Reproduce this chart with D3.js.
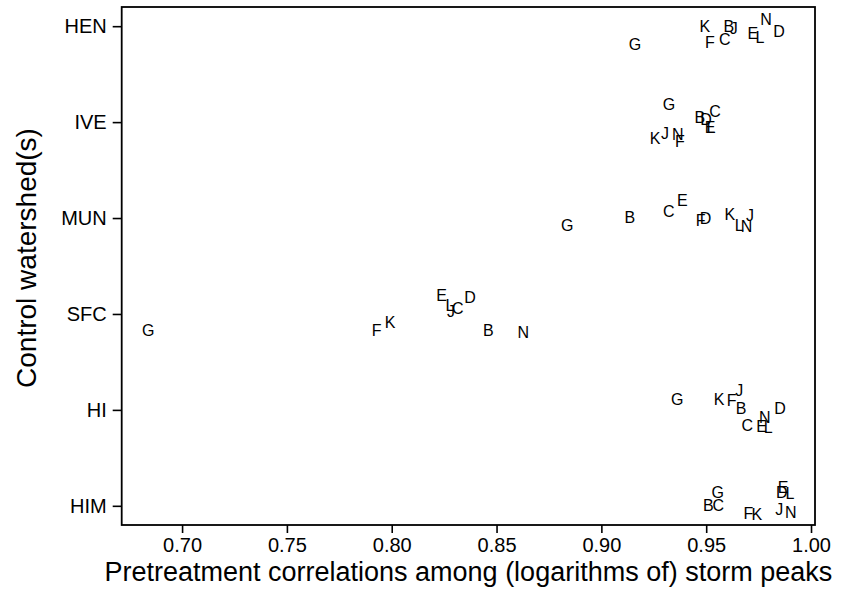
<!DOCTYPE html>
<html>
<head>
<meta charset="utf-8">
<script src="https://cdn.jsdelivr.net/npm/d3@7"></script>
<style>
  html, body { margin: 0; padding: 0; background: #fff; }
  svg { display: block; }
  text { font-family: "Liberation Sans", Arial, Helvetica, sans-serif; fill: #000; }
</style>
</head>
<body>
<svg id="chart" width="847" height="605"></svg>
<script>
// Control watersheds, top to bottom
const categories = ["HEN", "IVE", "MUN", "SFC", "HI", "HIM"];
// Treated-watershed codes plotted as text labels
const letters = ["B", "C", "D", "E", "F", "G", "J", "K", "L", "N"];

// Pretreatment correlations, one value per letter (order of `letters`)
const corrHEN = [0.9608, 0.9589, 0.9847, 0.9723, 0.9518, 0.9160, 0.9632, 0.9494, 0.9756, 0.9785];
const corrIVE = [0.9470, 0.9542, 0.9499, 0.9518, 0.9375, 0.9322, 0.9303, 0.9256, 0.9523, 0.9365];
const corrMUN = [0.9136, 0.9322, 0.9497, 0.9386, 0.9473, 0.8837, 0.9709, 0.9613, 0.9658, 0.9693];
const corrSFC = [0.8461, 0.8315, 0.8373, 0.8238, 0.7928, 0.6839, 0.8283, 0.7992, 0.8278, 0.8628];
const corrHI  = [0.9666, 0.9696, 0.9852, 0.9764, 0.9621, 0.9362, 0.9658, 0.9561, 0.9796, 0.9780];
const corrHIM = [0.9510, 0.9558, 0.9860, 0.9867, 0.9701, 0.9555, 0.9848, 0.9741, 0.9899, 0.9904];

// Vertical jitter applied to each label around its row
const jitHEN = [0.002, -0.133, -0.050, -0.071, -0.165, -0.186, -0.019, 0.002, -0.113, 0.075];
const jitIVE = [0.053, 0.116, 0.032, -0.058, -0.197, 0.186, -0.117, -0.169, -0.058, -0.124];
const jitMUN = [0.003, 0.066, 0.000, 0.180, -0.021, -0.080, 0.031, 0.038, -0.080, -0.090];
const jitSFC = [-0.168, 0.058, 0.169, 0.197, -0.168, -0.168, 0.023, -0.091, 0.093, -0.186];
const jitHI  = [0.016, -0.158, 0.022, -0.169, 0.102, 0.113, 0.206, 0.113, -0.182, -0.072];
const jitHIM = [0.007, 0.007, 0.139, 0.195, -0.075, 0.146, -0.035, -0.085, 0.129, -0.070];

const xTicks = [0.70, 0.75, 0.80, 0.85, 0.90, 0.95, 1.00];
const xLimits = [0.6712, 1.0019];

const corrByCat = [corrHEN, corrIVE, corrMUN, corrSFC, corrHI, corrHIM];
const jitByCat  = [jitHEN, jitIVE, jitMUN, jitSFC, jitHI, jitHIM];

// Flatten into label records; row value runs 6 (top) .. 1 (bottom)
const points = [];
categories.forEach((cat, ci) => {
  const row = categories.length - ci;
  letters.forEach((lab, li) => {
    points.push({ cat, lab, x: corrByCat[ci][li], y: row + jitByCat[ci][li] });
  });
});

const svg = d3.select("#chart");
const plot = { left: 121.7, right: 815, top: 7, bottom: 525 };

const x = d3.scaleLinear().domain(xLimits).range([plot.left, plot.right]);
const y = d3.scaleLinear().domain([0.8, 6.2]).range([plot.bottom, plot.top]);

const ptSize = 16, tickSize = 20, titleSize = 27;

// Labels
svg.append("g")
  .selectAll("text")
  .data(points)
  .join("text")
  .attr("x", d => x(d.x))
  .attr("y", d => y(d.y) + 0.358 * ptSize)
  .attr("text-anchor", "middle")
  .attr("font-size", ptSize)
  .text(d => d.lab);

// X axis
const xAxis = d3.axisBottom(x)
  .tickValues(xTicks)
  .tickFormat(d3.format(".2f"))
  .tickSize(8)
  .tickPadding(5);
const gx = svg.append("g")
  .attr("transform", `translate(0,${plot.bottom})`)
  .call(xAxis);
gx.select(".domain").remove();
gx.selectAll("line").attr("stroke", "#000").attr("stroke-width", 1.6);
gx.selectAll("text").attr("font-size", tickSize).attr("font-family", "Liberation Sans, Arial, sans-serif");

// Y axis (categorical rows)
const yAxis = d3.axisLeft(y)
  .tickValues(d3.range(categories.length).map(i => categories.length - i))
  .tickFormat(v => categories[categories.length - v])
  .tickSize(9)
  .tickPadding(6);
const gy = svg.append("g")
  .attr("transform", `translate(${plot.left},0)`)
  .call(yAxis);
gy.select(".domain").remove();
gy.selectAll("line").attr("stroke", "#000").attr("stroke-width", 1.6);
gy.selectAll("text").attr("font-size", tickSize).attr("font-family", "Liberation Sans, Arial, sans-serif");

// Box around plotting region
svg.append("rect")
  .attr("x", plot.left)
  .attr("y", plot.top)
  .attr("width", plot.right - plot.left)
  .attr("height", plot.bottom - plot.top)
  .attr("fill", "none")
  .attr("stroke", "#000")
  .attr("stroke-width", 1.8);

// Axis titles
svg.append("text")
  .attr("x", (plot.left + plot.right) / 2)
  .attr("y", 581)
  .attr("text-anchor", "middle")
  .attr("font-size", titleSize)
  .text("Pretreatment correlations among (logarithms of) storm peaks");

svg.append("text")
  .attr("transform", `translate(36,258) rotate(-90)`)
  .attr("text-anchor", "middle")
  .attr("font-size", 28)
  .text("Control watershed(s)");
</script>
</body>
</html>
